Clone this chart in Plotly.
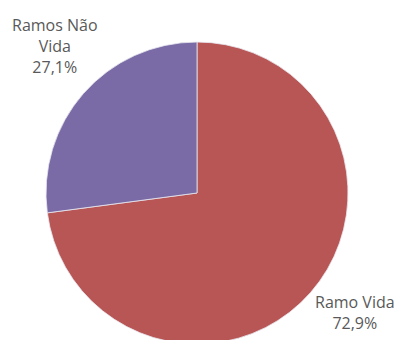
import plotly.graph_objects as go

# Distribution of premiums by line of business
labels = ["Ramo Vida", "Ramos Não Vida"]
values = [72.9, 27.1]
colors = ["#B85555", "#7A6BA6"]

W, H = 397, 350
ml, mr, mt, mb = 46, 49, 42, 6
pw, ph = W - ml - mr, H - mt - mb


def px_to_paper(px, py):
    """Convert a pixel position (from top-left of the figure) to paper coordinates."""
    return (px - ml) / pw, (H - py - mb) / ph


def pct(v):
    return f"{v:.1f}".replace(".", ",") + "%"


fig = go.Figure(
    go.Pie(
        labels=labels,
        values=values,
        sort=False,
        direction="clockwise",
        rotation=0,
        marker=dict(colors=colors, line=dict(color="#E8E8F0", width=0.8)),
        textinfo="none",
        hoverinfo="label+percent",
        domain=dict(x=[0, 1], y=[0, 1]),
    )
)

label_font = dict(family="Open Sans, sans-serif", size=16, color="#595959")

x1, y1 = px_to_paper(55, 46)
fig.add_annotation(
    text=f"Ramos Não<br>Vida<br>{pct(values[1])}",
    x=x1, y=y1, xref="paper", yref="paper", xanchor="center", yanchor="middle",
    showarrow=False, font=label_font, align="center",
)
x2, y2 = px_to_paper(355, 312)
fig.add_annotation(
    text=f"Ramo Vida<br>{pct(values[0])}",
    x=x2, y=y2, xref="paper", yref="paper", xanchor="center", yanchor="middle",
    showarrow=False, font=label_font, align="center",
)

fig.update_layout(
    width=W,
    height=H,
    margin=dict(l=ml, r=mr, t=mt, b=mb),
    showlegend=False,
    paper_bgcolor="white",
    plot_bgcolor="white",
)

fig.write_html("out.html")
